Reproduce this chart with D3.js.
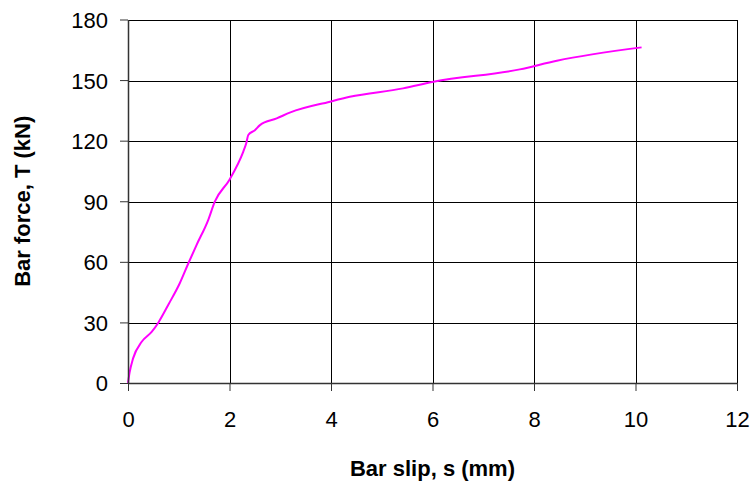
<!DOCTYPE html>
<html>
<head>
<meta charset="utf-8">
<script src="https://cdn.jsdelivr.net/npm/d3@7"></script>
<style>
  body { margin: 0; background: #fff; }
  text { font-family: "Liberation Sans", Arial, sans-serif; fill: #000; }
  .axis .domain { stroke: #333; stroke-width: 1.5; }
  .axis .tick line { stroke: #333; }
  .grid line { stroke: #000; stroke-width: 1; shape-rendering: crispEdges; }
  .curve { fill: none; stroke: #ff00ff; stroke-width: 2; }
</style>
</head>
<body>
<script>
// bar slip (mm) and bar force (kN)
const slip = [0, 0.03, 0.1, 0.27, 0.47, 0.6, 0.8, 1.02, 1.19, 1.35, 1.58, 1.71, 2.0, 2.27, 2.33, 2.37, 2.5, 2.6, 2.93, 3.2, 3.98, 4.37, 5.42, 6.02, 7.72, 8.45, 10.12];
const force = [0, 5, 12.2, 20.4, 25.4, 30, 39, 49.4, 59.3, 68.3, 80.7, 89.8, 100.7, 114.5, 118.7, 122.8, 125.2, 127.7, 131, 134, 139.3, 141.7, 145.9, 149.2, 155.3, 159.6, 166.2];

const xTicks = [0, 2, 4, 6, 8, 10, 12];
const yTicks = [0, 30, 60, 90, 120, 150, 180];

const width = 755,
  height = 488;
const margin = { top: 19.5, right: 18, bottom: 105, left: 128 };
const innerW = width - margin.left - margin.right,
  innerH = height - margin.top - margin.bottom;

const x = d3.scaleLinear().domain([0, 12]).range([0, innerW]);
const y = d3.scaleLinear().domain([0, 180]).range([innerH, 0]);

const svg = d3
  .select('body')
  .append('svg')
  .attr('width', width)
  .attr('height', height);

const g = svg
  .append('g')
  .attr('transform', `translate(${margin.left},${margin.top})`);

// gridlines
g.append('g')
  .attr('class', 'grid')
  .selectAll('line.v')
  .data(xTicks.slice(1))
  .join('line')
  .attr('x1', d => Math.round(x(d)) + 0.5)
  .attr('x2', d => Math.round(x(d)) + 0.5)
  .attr('y1', 0)
  .attr('y2', innerH);

g.append('g')
  .attr('class', 'grid')
  .selectAll('line.h')
  .data(yTicks.slice(1))
  .join('line')
  .attr('x1', 0)
  .attr('x2', innerW)
  .attr('y1', d => Math.round(y(d)) + 0.5)
  .attr('y2', d => Math.round(y(d)) + 0.5);

// curve
const line = d3
  .line()
  .x((d, i) => x(slip[i]))
  .y(d => y(d))
  .curve(d3.curveMonotoneX);

g.append('path')
  .datum(force)
  .attr('class', 'curve')
  .attr('d', line);

// axes
const xAxis = g
  .append('g')
  .attr('class', 'axis')
  .attr('transform', `translate(0,${innerH})`)
  .call(d3.axisBottom(x).tickValues(xTicks).tickSize(8).tickSizeOuter(0).tickPadding(20));

const yAxis = g
  .append('g')
  .attr('class', 'axis')
  .call(d3.axisLeft(y).tickValues(yTicks).tickSize(8).tickSizeOuter(0).tickPadding(12));

svg.selectAll('.axis text').style('font-size', '22px');
yAxis.selectAll('text').attr('dy', '0.36em');

// axis titles
svg
  .append('text')
  .attr('x', margin.left + innerW / 2)
  .attr('y', 476)
  .attr('text-anchor', 'middle')
  .style('font-size', '22px')
  .style('font-weight', 'bold')
  .text('Bar slip, s (mm)');

svg
  .append('text')
  .attr('transform', `translate(30,${margin.top + innerH / 2}) rotate(-90)`)
  .attr('text-anchor', 'middle')
  .style('font-size', '22px')
  .style('font-weight', 'bold')
  .text('Bar force, T (kN)');
</script>
</body>
</html>
